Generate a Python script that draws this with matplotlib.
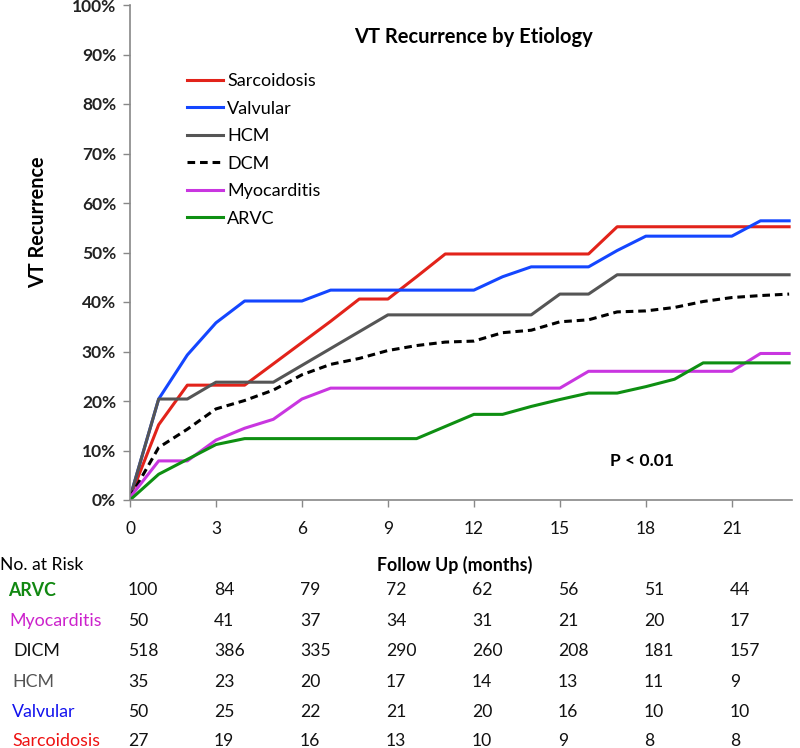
import matplotlib
matplotlib.use("Agg")
import matplotlib.pyplot as plt
from matplotlib.ticker import FuncFormatter

plt.rcParams['font.family'] = ['Lato', 'DejaVu Sans']

months = list(range(24))
sarcoidosis = [0.5, 15.2, 23.2, 23.2, 23.2, 27.5, 31.8, 36.1, 40.6, 40.6, 45.1, 49.7, 49.7, 49.7,
               49.7, 49.7, 49.7, 55.2, 55.2, 55.2, 55.2, 55.2, 55.2, 55.2]
valvular = [0.5, 20.4, 29.3, 35.8, 40.2, 40.2, 40.2, 42.4, 42.4, 42.4, 42.4, 42.4, 42.4, 45.1,
            47.1, 47.1, 47.1, 50.4, 53.3, 53.3, 53.3, 53.3, 56.4, 56.4]
hcm = [0.5, 20.4, 20.4, 23.8, 23.8, 23.8, 27.2, 30.6, 34.0, 37.4, 37.4, 37.4, 37.4, 37.4,
       37.4, 41.6, 41.6, 45.5, 45.5, 45.5, 45.5, 45.5, 45.5, 45.5]
dcm = [0.5, 10.6, 14.3, 18.4, 20.1, 22.2, 25.3, 27.4, 28.6, 30.2, 31.2, 31.9, 32.1, 33.8,
       34.3, 36.0, 36.4, 38.0, 38.2, 38.9, 40.1, 40.9, 41.3, 41.6]
myocarditis = [0.5, 7.9, 7.9, 12.1, 14.5, 16.3, 20.4, 22.6, 22.6, 22.6, 22.6, 22.6, 22.6, 22.6,
               22.6, 22.6, 26.0, 26.0, 26.0, 26.0, 26.0, 26.0, 29.6, 29.6]
arvc = [0.0, 5.2, 8.2, 11.2, 12.4, 12.4, 12.4, 12.4, 12.4, 12.4, 12.4, 14.85, 17.3, 17.3,
        18.9, 20.3, 21.6, 21.6, 22.9, 24.4, 27.7, 27.7, 27.7, 27.7]

tick_months = [0, 3, 6, 9, 12, 15, 18, 21]
risk_labels = ['ARVC', 'Myocarditis', 'DICM', 'HCM', 'Valvular', 'Sarcoidosis']
risk_arvc = [100, 84, 79, 72, 62, 56, 51, 44]
risk_myocarditis = [50, 41, 37, 34, 31, 21, 20, 17]
risk_dicm = [518, 386, 335, 290, 260, 208, 181, 157]
risk_hcm = [35, 23, 20, 17, 14, 13, 11, 9]
risk_valvular = [50, 25, 22, 21, 20, 16, 10, 10]
risk_sarcoidosis = [27, 19, 16, 13, 10, 9, 8, 8]

W, H = 800, 748
fig = plt.figure(figsize=(W / 100, H / 100), dpi=100)
ax = fig.add_axes([130 / W, 1 - 500 / H, 662 / W, 495 / H])

lw = 2.2
ax.plot(months, sarcoidosis, color='#E2231A', lw=lw, label='Sarcoidosis')
ax.plot(months, valvular, color='#1446FF', lw=lw, label='Valvular')
ax.plot(months, hcm, color='#555555', lw=lw, label='HCM')
ax.plot(months, dcm, color='black', lw=lw, ls=(0, (2.5, 1.6)), label='DCM')
ax.plot(months, myocarditis, color='#C936E0', lw=lw, label='Myocarditis')
ax.plot(months, arvc, color='#0E8F12', lw=lw, label='ARVC')

ax.set_xlim(0, 23.1)
ax.set_ylim(0, 100)
ax.set_xticks(tick_months)
ax.set_yticks(range(0, 101, 10))
ax.yaxis.set_major_formatter(FuncFormatter(lambda v, p: f"{int(v)}%"))
for s in ['top', 'right']:
    ax.spines[s].set_visible(False)
for s in ['left', 'bottom']:
    ax.spines[s].set_color('#888888')
    ax.spines[s].set_linewidth(1.2)
ax.tick_params(axis='both', colors='#888888', length=5, width=1)
ax.tick_params(axis='y', labelcolor='#222222', labelsize=12.5, pad=5)
ax.tick_params(axis='x', labelcolor='#111111', labelsize=12.5, pad=10)
for t in ax.get_yticklabels():
    t.set_fontweight('bold')

fig.text(38 / W, 1 - 222 / H, 'VT Recurrence', rotation=90, ha='center', va='center',
         fontsize=14.3, fontweight='bold')

fig.text(473.5 / W, 1 - 37 / H, 'VT Recurrence by Etiology',
         ha='center', va='center', fontsize=14.5, fontweight='bold')
fig.text(642 / W, 1 - 461 / H, 'P < 0.01', ha='center', va='center',
         fontsize=12.6, fontweight='bold')

leg = ax.legend(loc='upper left', bbox_to_anchor=(187 / W, 1 - 73 / H),
                bbox_transform=fig.transFigure, frameon=False, fontsize=13,
                handlelength=2.0, handletextpad=0.22, labelspacing=0.64,
                borderpad=0, borderaxespad=0)

fig.text(455 / W, 1 - 565 / H, 'Follow Up (months)', ha='center', va='center',
         fontsize=12.8, fontweight='bold')
fig.text(0 / W, 1 - 565 / H, 'No. at Risk', ha='left', va='center', fontsize=12.6)

rows = [risk_arvc, risk_myocarditis, risk_dicm, risk_hcm, risk_valvular, risk_sarcoidosis]
label_colors = ['#118811', '#CC22CC', '#111111', '#555555', '#1111EE', '#EE1111']
label_x = [8, 9, 13, 12, 12, 12]
label_weight = ['bold', 'normal', 'normal', 'normal', 'normal', 'normal']
row_y = [590, 621, 651, 682, 712, 741]
for lab, vals, c, lx, wgt, ry in zip(risk_labels, rows, label_colors, label_x, label_weight, row_y):
    yf = 1 - ry / H
    fig.text(lx / W, yf, lab, ha='left', va='center', fontsize=12.8, color=c, fontweight=wgt)
    for m, v in zip(tick_months, vals):
        xd = ax.transData.transform((m, 0))[0]
        fig.text((xd - 2) / W, yf, str(v), ha='left', va='center', fontsize=12.6, color='#111111')

fig.savefig('out.png', dpi=100)
